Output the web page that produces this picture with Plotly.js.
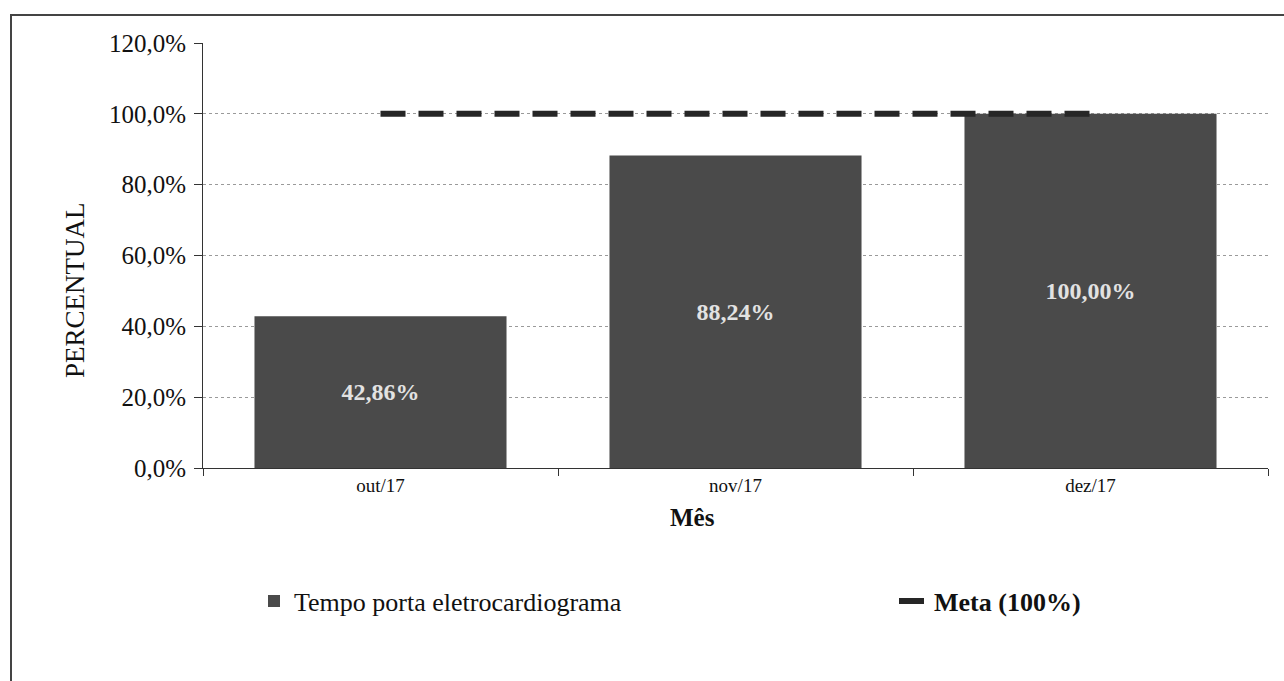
<!DOCTYPE html>
<html>
<head>
<meta charset="utf-8">
<script src="https://cdn.plot.ly/plotly-3.0.1.min.js"></script>
<style>html,body{margin:0;padding:0;background:#fff;}</style>
</head>
<body>
<div id="chart" style="width:1284px;height:681px;"></div>
<script>
const categories = ['out/17', 'nov/17', 'dez/17'];
const tempoPorta = [0.4286, 0.8824, 1.0];
const meta = [1.0, 1.0, 1.0];
const yTicks = [0, 0.2, 0.4, 0.6, 0.8, 1.0, 1.2];

const serif = 'Liberation Serif, Times New Roman, serif';

const traces = [
  {
    type: 'bar',
    name: 'Tempo porta eletrocardiograma',
    x: categories,
    y: tempoPorta,
    marker: {color: '#4a4a4a', line: {width: 0}},
    texttemplate: '<b>%{y:.2%}</b>',
    textposition: 'inside',
    insidetextanchor: 'middle',
    textfont: {family: serif, size: 24, color: '#e2e2e2'},
    legend: 'legend'
  },
  {
    type: 'scatter',
    mode: 'lines',
    name: '<b>Meta (100%)</b>',
    x: categories,
    y: meta,
    line: {color: '#262626', width: 6, dash: '25px,13px'},
    legend: 'legend2'
  }
];

const L = 203, R = 16, T = 43, B = 213;
const pw = 1284 - L - R, ph = 681 - T - B;
function px(xp) { return (xp - L) / pw; }
function py(yp) { return (681 - B - yp) / ph; }

const legendFont = {family: serif, size: 26, color: '#111'};

const layout = {
  width: 1284,
  height: 681,
  margin: {l: L, r: R, t: T, b: B, pad: 0},
  paper_bgcolor: '#ffffff',
  plot_bgcolor: '#ffffff',
  separators: ',.',
  bargap: 0.29,
  showlegend: true,
  font: {family: serif, color: '#111'},
  xaxis: {
    type: 'category',
    showline: true,
    linecolor: '#333',
    linewidth: 1,
    ticks: 'outside',
    tickson: 'boundaries',
    ticklen: 7,
    tickcolor: '#333',
    showgrid: false,
    tickfont: {family: serif, size: 19, color: '#111'}
  },
  yaxis: {
    range: [0, 1.2],
    tickvals: yTicks,
    tickformat: '.1%',
    showline: true,
    linecolor: '#333',
    linewidth: 1,
    ticks: 'outside',
    ticklen: 8,
    tickcolor: '#333',
    ticklabelstandoff: 3,
    showgrid: true,
    gridcolor: '#9a9a9a',
    gridwidth: 1,
    griddash: 'dot',
    zeroline: false,
    tickfont: {family: serif, size: 25, color: '#111'}
  },
  annotations: [
    {
      text: 'PERCENTUAL',
      xref: 'paper', yref: 'paper',
      x: px(75), y: py(290),
      xanchor: 'center', yanchor: 'middle',
      textangle: -90,
      showarrow: false,
      font: {family: serif, size: 27, color: '#111'}
    },
    {
      text: '<b>Mês</b>',
      xref: 'paper', yref: 'paper',
      x: px(692), y: py(517),
      xanchor: 'center', yanchor: 'middle',
      showarrow: false,
      font: {family: serif, size: 25, color: '#111'}
    }
  ],
  legend: {
    orientation: 'h',
    x: px(254),
    xanchor: 'left',
    y: py(601),
    yanchor: 'middle',
    font: legendFont,
    bgcolor: 'rgba(0,0,0,0)'
  },
  legend2: {
    orientation: 'h',
    x: px(894),
    xanchor: 'left',
    y: py(601),
    yanchor: 'middle',
    font: legendFont,
    bgcolor: 'rgba(0,0,0,0)'
  },
  shapes: [
    {
      type: 'rect',
      xref: 'paper', yref: 'paper',
      x0: px(11), x1: px(1295),
      y0: py(695), y1: py(15),
      line: {color: '#444', width: 2},
      fillcolor: 'rgba(0,0,0,0)',
      layer: 'below'
    }
  ]
};

Plotly.newPlot('chart', traces, layout, {displayModeBar: false, staticPlot: true});
</script>
</body>
</html>
